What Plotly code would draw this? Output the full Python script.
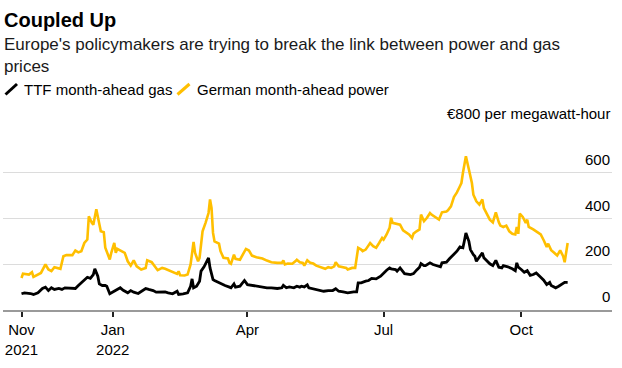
import plotly.graph_objects as go

# ---------------- data ----------------
gas_dates = [
    "2021-11-01", "2021-11-03", "2021-11-07", "2021-11-09", "2021-11-12", "2021-11-15", "2021-11-17",
    "2021-11-19", "2021-11-21", "2021-11-23", "2021-11-26", "2021-11-28", "2021-11-30", "2021-12-03",
    "2021-12-07", "2021-12-09", "2021-12-11", "2021-12-13", "2021-12-15", "2021-12-17", "2021-12-19",
    "2021-12-20", "2021-12-22", "2021-12-23", "2021-12-25", "2021-12-27", "2021-12-28", "2021-12-30",
    "2022-01-01", "2022-01-04", "2022-01-06", "2022-01-08", "2022-01-11", "2022-01-13", "2022-01-15",
    "2022-01-18", "2022-01-20", "2022-01-23", "2022-01-25", "2022-01-28", "2022-01-30", "2022-02-02",
    "2022-02-05", "2022-02-07", "2022-02-10", "2022-02-13", "2022-02-14", "2022-02-17", "2022-02-20",
    "2022-02-22", "2022-02-23", "2022-02-24", "2022-02-26", "2022-02-28", "2022-03-01", "2022-03-03",
    "2022-03-05", "2022-03-06", "2022-03-07", "2022-03-09", "2022-03-10", "2022-03-13", "2022-03-15",
    "2022-03-17", "2022-03-20", "2022-03-21", "2022-03-23", "2022-03-24", "2022-03-27", "2022-03-29",
    "2022-03-30", "2022-04-01", "2022-04-04", "2022-04-07", "2022-04-11", "2022-04-14", "2022-04-17",
    "2022-04-21", "2022-04-24", "2022-04-25", "2022-04-27", "2022-04-29", "2022-05-02", "2022-05-04",
    "2022-05-06", "2022-05-07", "2022-05-09", "2022-05-11", "2022-05-12", "2022-05-15", "2022-05-18",
    "2022-05-22", "2022-05-25", "2022-05-28", "2022-05-30", "2022-06-01", "2022-06-04", "2022-06-07",
    "2022-06-11", "2022-06-13", "2022-06-14", "2022-06-16", "2022-06-19", "2022-06-21", "2022-06-23",
    "2022-06-26", "2022-06-29", "2022-07-01", "2022-07-03", "2022-07-05", "2022-07-06", "2022-07-09",
    "2022-07-10", "2022-07-12", "2022-07-14", "2022-07-15", "2022-07-19", "2022-07-21", "2022-07-23",
    "2022-07-25", "2022-07-26", "2022-07-28", "2022-07-29", "2022-08-01", "2022-08-03", "2022-08-05",
    "2022-08-08", "2022-08-09", "2022-08-12", "2022-08-14", "2022-08-17", "2022-08-19", "2022-08-21",
    "2022-08-23", "2022-08-24", "2022-08-25", "2022-08-27", "2022-08-28", "2022-08-30", "2022-08-31",
    "2022-09-01", "2022-09-03", "2022-09-05", "2022-09-06", "2022-09-08", "2022-09-10", "2022-09-12",
    "2022-09-14", "2022-09-16", "2022-09-18", "2022-09-19", "2022-09-22", "2022-09-25", "2022-09-27",
    "2022-09-28", "2022-09-29", "2022-10-01", "2022-10-03", "2022-10-05", "2022-10-07", "2022-10-09",
    "2022-10-11", "2022-10-14", "2022-10-16", "2022-10-18", "2022-10-20", "2022-10-21", "2022-10-24",
    "2022-10-26", "2022-10-28", "2022-10-30", "2022-11-01",
]
gas_values = [
    71, 75, 72, 68, 75, 94, 100,
    85, 97, 90, 94, 90, 97, 97,
    94, 107, 119, 133, 143, 138, 155,
    180, 148, 114, 107, 107, 104, 71,
    78, 90, 97, 86, 75, 85, 78,
    72, 82, 94, 90, 85, 78, 78,
    79, 75, 71, 82, 68, 71, 75,
    104, 136, 97, 104, 126, 170, 189,
    213, 228, 184, 133, 129, 119, 111,
    107, 100, 97, 114, 100, 104, 119,
    129, 111, 107, 104, 101, 97, 97,
    94, 97, 108, 97, 101, 97, 104,
    100, 104, 101, 110, 97, 93, 86,
    82, 85, 85, 93, 82, 79, 75,
    79, 79, 119, 119, 126, 129, 138,
    136, 148, 162, 174, 184, 180, 177,
    170, 184, 165, 159, 155, 159, 174,
    187, 203, 194, 194, 206, 199, 194,
    189, 206, 209, 224, 242, 257, 276,
    272, 303, 337, 300, 264, 242, 235,
    213, 232, 250, 228, 213, 202, 194,
    217, 187, 184, 194, 189, 180, 172,
    206, 187, 177, 165, 172, 151, 155,
    162, 143, 130, 111, 121, 107, 97,
    104, 114, 121, 121,
]

power_dates = [
    "2021-11-01", "2021-11-02", "2021-11-06", "2021-11-08", "2021-11-09", "2021-11-12", "2021-11-14",
    "2021-11-17", "2021-11-19", "2021-11-21", "2021-11-23", "2021-11-27", "2021-11-29", "2021-12-01",
    "2021-12-05", "2021-12-07", "2021-12-09", "2021-12-11", "2021-12-13", "2021-12-15", "2021-12-16",
    "2021-12-18", "2021-12-19", "2021-12-21", "2021-12-22", "2021-12-24", "2021-12-26", "2021-12-27",
    "2021-12-30", "2021-12-31", "2022-01-02", "2022-01-03", "2022-01-04", "2022-01-07", "2022-01-09",
    "2022-01-11", "2022-01-13", "2022-01-15", "2022-01-17", "2022-01-20", "2022-01-23", "2022-01-24",
    "2022-01-27", "2022-01-31", "2022-02-03", "2022-02-05", "2022-02-07", "2022-02-10", "2022-02-13",
    "2022-02-14", "2022-02-15", "2022-02-18", "2022-02-20", "2022-02-22", "2022-02-24", "2022-02-25",
    "2022-02-27", "2022-02-28", "2022-03-01", "2022-03-02", "2022-03-04", "2022-03-06", "2022-03-07",
    "2022-03-08", "2022-03-09", "2022-03-10", "2022-03-13", "2022-03-14", "2022-03-16", "2022-03-19",
    "2022-03-20", "2022-03-21", "2022-03-23", "2022-03-24", "2022-03-27", "2022-03-29", "2022-03-31",
    "2022-04-02", "2022-04-04", "2022-04-07", "2022-04-11", "2022-04-14", "2022-04-17", "2022-04-21",
    "2022-04-24", "2022-04-25", "2022-04-26", "2022-04-28", "2022-05-01", "2022-05-03", "2022-05-04",
    "2022-05-06", "2022-05-08", "2022-05-09", "2022-05-11", "2022-05-13", "2022-05-15", "2022-05-17",
    "2022-05-19", "2022-05-23", "2022-05-25", "2022-05-27", "2022-05-29", "2022-05-30", "2022-06-01",
    "2022-06-04", "2022-06-06", "2022-06-07", "2022-06-10", "2022-06-12", "2022-06-14", "2022-06-16",
    "2022-06-17", "2022-06-19", "2022-06-20", "2022-06-22", "2022-06-24", "2022-06-26", "2022-06-28",
    "2022-06-30", "2022-07-01", "2022-07-03", "2022-07-05", "2022-07-06", "2022-07-07", "2022-07-10",
    "2022-07-12", "2022-07-14", "2022-07-15", "2022-07-18", "2022-07-20", "2022-07-21", "2022-07-23",
    "2022-07-25", "2022-07-26", "2022-07-28", "2022-07-30", "2022-08-01", "2022-08-02", "2022-08-04",
    "2022-08-07", "2022-08-09", "2022-08-12", "2022-08-13", "2022-08-15", "2022-08-17", "2022-08-19",
    "2022-08-21", "2022-08-22", "2022-08-23", "2022-08-24", "2022-08-25", "2022-08-27", "2022-08-29",
    "2022-08-30", "2022-09-01", "2022-09-03", "2022-09-05", "2022-09-06", "2022-09-08", "2022-09-10",
    "2022-09-12", "2022-09-14", "2022-09-16", "2022-09-17", "2022-09-19", "2022-09-21", "2022-09-23",
    "2022-09-25", "2022-09-27", "2022-09-28", "2022-09-29", "2022-09-30", "2022-10-02", "2022-10-04",
    "2022-10-05", "2022-10-06", "2022-10-09", "2022-10-11", "2022-10-14", "2022-10-16", "2022-10-18",
    "2022-10-19", "2022-10-21", "2022-10-23", "2022-10-25", "2022-10-27", "2022-10-29", "2022-10-30",
    "2022-11-01",
]
power_values = [
    140, 159, 155, 165, 145, 155, 162,
    199, 177, 170, 187, 180, 235, 240,
    240, 260, 252, 257, 293, 308, 410,
    381, 373, 440, 403, 344, 340, 272,
    221, 250, 293, 250, 267, 257, 250,
    213, 194, 217, 191, 177, 184, 217,
    209, 174, 184, 180, 174, 165, 158,
    169, 152, 151, 155, 199, 298, 250,
    213, 228, 293, 344, 381, 424, 483,
    446, 337, 300, 290, 257, 228, 225,
    206, 202, 242, 224, 220, 242, 267,
    260, 238, 231, 225, 216, 209, 206,
    206, 217, 199, 203, 202, 213, 220,
    209, 206, 194, 217, 206, 203, 194,
    189, 180, 187, 184, 191, 209, 191,
    187, 184, 177, 184, 184, 272, 264,
    257, 264, 272, 293, 279, 272, 293,
    315, 308, 330, 359, 403, 381, 376,
    373, 348, 344, 330, 315, 334, 344,
    352, 417, 388, 403, 424, 417, 407,
    395, 427, 431, 436, 453, 494, 514,
    541, 555, 599, 643, 672, 614, 555,
    504, 475, 461, 483, 446, 417, 395,
    383, 427, 383, 369, 363, 369, 344,
    333, 330, 363, 333, 421, 407, 381,
    395, 363, 352, 344, 330, 305, 276,
    290, 261, 250, 238, 261, 235, 209,
    293,
]

y_tick_values = [0, 200, 400, 600, 800]
y_tick_labels = ["0", "200", "400", "600", "€800 per megawatt-hour"]
x_tick_dates = ["2021-11-01", "2022-01-01", "2022-04-01", "2022-07-01", "2022-10-01"]
x_tick_months = ["Nov", "Jan", "Apr", "Jul", "Oct"]
x_tick_years = ["2021", "2022", "", "", ""]

series_names = ["TTF month-ahead gas", "German month-ahead power"]
title_text = "Coupled Up"
subtitle_text = "Europe's policymakers are trying to break the link between power and gas<br>prices"

# ---------------- style ----------------
W, H = 622, 368
ML, MR, MT, MB = 3, 10, 127, 58
PW, PH = W - ML - MR, H - MT - MB
FONT = "Liberation Sans, Arial, Helvetica, sans-serif"
GAS_COLOR = "#000000"
POWER_COLOR = "#FFBF00"
GRID_COLOR = "#dcdcdc"


def px_x(x):
    return (x - ML) / PW


def px_y(y):
    return (H - MB - y) / PH


x_tick_text = [m + ("<br>" + y if y else "") for m, y in zip(x_tick_months, x_tick_years)]

fig = go.Figure()
fig.add_trace(go.Scatter(x=power_dates, y=power_values, mode="lines", name=series_names[1],
                         line=dict(color=POWER_COLOR, width=2.6), hoverinfo="skip"))
fig.add_trace(go.Scatter(x=gas_dates, y=gas_values, mode="lines", name=series_names[0],
                         line=dict(color=GAS_COLOR, width=2.8), hoverinfo="skip"))

annotations = [
    dict(text="<b>" + title_text + "</b>", x=px_x(2), y=px_y(20.5), xanchor="left", yanchor="middle",
         font=dict(size=20, color="#000000", family=FONT)),
    dict(text=subtitle_text, x=px_x(2), y=px_y(55.5), xanchor="left", yanchor="middle", align="left",
         font=dict(size=17, color="#1a1a1a", family=FONT)),
    dict(text=series_names[0], x=px_x(21.5), y=px_y(89.5), xanchor="left", yanchor="middle",
         font=dict(size=15, color="#000000", family=FONT)),
    dict(text=series_names[1], x=px_x(195), y=px_y(89.5), xanchor="left", yanchor="middle",
         font=dict(size=15, color="#000000", family=FONT)),
]
for v, lab in zip(y_tick_values, y_tick_labels):
    annotations.append(dict(text=lab, x=1, xref="paper", y=v, yref="y",
                            xanchor="right", yanchor="bottom", yshift=3,
                            font=dict(size=15, color="#000000", family=FONT)))
for a in annotations:
    a.setdefault("xref", "paper")
    a.setdefault("yref", "paper")
    a["showarrow"] = False

shapes = [
    dict(type="line", xref="paper", yref="paper", x0=px_x(5.5), y0=px_y(94.5), x1=px_x(17), y1=px_y(84),
         line=dict(color=GAS_COLOR, width=3)),
    dict(type="line", xref="paper", yref="paper", x0=px_x(177.5), y0=px_y(94.5), x1=px_x(189.5), y1=px_y(84),
         line=dict(color=POWER_COLOR, width=3)),
]

fig.update_layout(
    width=W, height=H,
    margin=dict(l=ML, r=MR, t=MT, b=MB, pad=0, autoexpand=False),
    paper_bgcolor="#ffffff", plot_bgcolor="#ffffff",
    showlegend=False,
    font=dict(family=FONT, size=15, color="#000000"),
    annotations=annotations,
    shapes=shapes,
    xaxis=dict(
        type="date", automargin=False,
        range=["2021-10-19 15:20", "2022-11-30 15:20"],
        tickmode="array", tickvals=x_tick_dates, ticktext=x_tick_text,
        ticks="outside", ticklen=5, tickwidth=1.5, tickcolor="#222222",
        showline=True, linecolor="#9a9a9a", linewidth=2,
        showgrid=False, zeroline=False,
        tickfont=dict(size=15, color="#000000", family=FONT),
        fixedrange=True,
    ),
    yaxis=dict(
        range=[0, 800], side="right", automargin=False,
        tickmode="array", tickvals=y_tick_values,
        showticklabels=False, ticks="",
        showgrid=True, gridcolor=GRID_COLOR, gridwidth=1,
        zeroline=False, showline=False,
        fixedrange=True,
    ),
)

fig.write_html(
    "out.html",
    config={"displayModeBar": False},
    post_script="document.body.style.margin='0';document.body.style.padding='0';",
)
